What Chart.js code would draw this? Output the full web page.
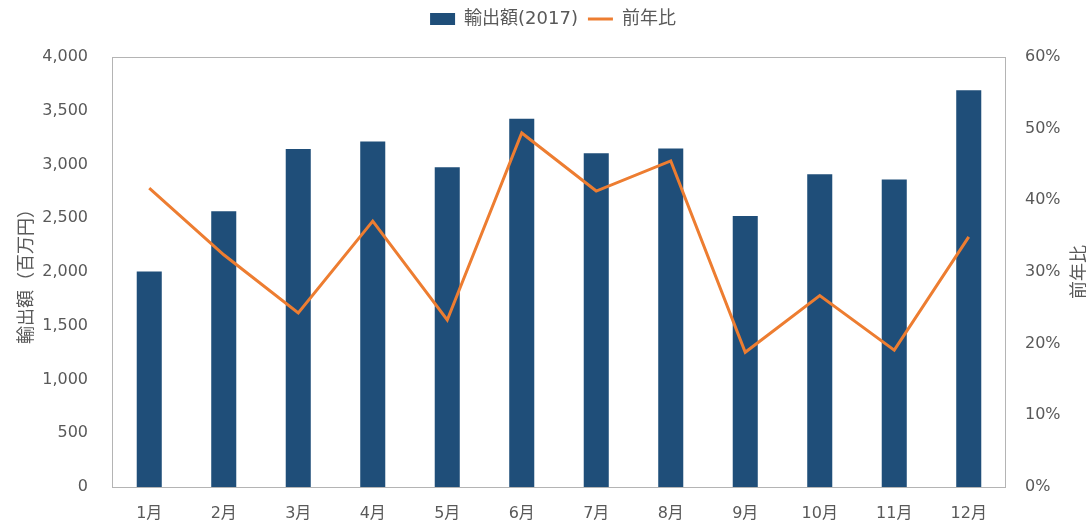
<!DOCTYPE html>
<html lang="ja">
<head>
<meta charset="utf-8">
<title>輸出額と前年比</title>
<script src="https://cdn.jsdelivr.net/npm/chart.js@4.4.1/dist/chart.umd.min.js"></script>
<style>
  html, body { margin: 0; padding: 0; background: #fff; }
  #wrap { width: 1086px; height: 526px; }
</style>
</head>
<body>
<div id="wrap"><canvas id="myChart" width="1086" height="526"></canvas></div>
<script>
const months = ["1月", "2月", "3月", "4月", "5月", "6月", "7月", "8月", "9月", "10月", "11月", "12月"];
// 輸出額 (百万円)
const exports2017 = [2005, 2565, 3145, 3215, 2975, 3425, 3105, 3150, 2520, 2910, 2860, 3690];
// 前年比 (%)
const yoyRate = [41.7, 32.4, 24.3, 37.1, 23.3, 49.4, 41.3, 45.5, 18.8, 26.7, 19.1, 34.9];

const leftTicks = { min: 0, max: 4000, step: 500 };
const rightTicks = { min: 0, max: 60, step: 10 };

const textColor = "#595959";
const fontFamily = "'DejaVu Sans', 'Noto Sans CJK JP', sans-serif";
const cjkFont = "'Noto Sans CJK JP', sans-serif";

// box around the plot area + right axis title drawn upright like the left one
const plotFrame = {
  id: "plotFrame",
  beforeLayout: (chart) => {
    // extra gap under the legend
    const legend = chart.legend;
    if (legend && !legend._gapPatched) {
      const fit = legend.fit;
      legend.fit = function () {
        fit.call(this);
        this.height += 19;
      };
      legend._gapPatched = true;
    }
  },
  afterLayout: (chart) => {
    // legend sits a little right of the canvas centre
    chart.legend.left += 10;
    chart.legend.right += 10;
  },
  beforeDatasetsDraw: (chart) => {
    const { ctx, chartArea } = chart;
    ctx.save();
    ctx.strokeStyle = "#b4b4b4";
    ctx.lineWidth = 1;
    ctx.strokeRect(
      Math.round(chartArea.left) + 0.5,
      Math.round(chartArea.top) + 0.5,
      Math.round(chartArea.right - chartArea.left) - 1,
      Math.round(chartArea.bottom - chartArea.top)
    );
    ctx.restore();
  },
  afterDraw: (chart) => {
    const { ctx, chartArea } = chart;
    ctx.save();
    ctx.translate(1078, (chartArea.top + chartArea.bottom) / 2);
    ctx.rotate(-Math.PI / 2);
    ctx.fillStyle = textColor;
    ctx.font = "18px " + cjkFont;
    ctx.textAlign = "center";
    ctx.textBaseline = "middle";
    ctx.fillText("前年比", 0, 0);
    ctx.restore();
  },
};

new Chart(document.getElementById("myChart"), {
  type: "bar",
  data: {
    labels: months,
    datasets: [
      {
        type: "bar",
        label: "輸出額(2017)",
        data: exports2017,
        backgroundColor: "#1f4e79",
        borderWidth: 0,
        barPercentage: 0.336,
        categoryPercentage: 1,
        yAxisID: "y",
        order: 1,
      },
      {
        type: "line",
        label: "前年比",
        data: yoyRate,
        borderColor: "#ed7d31",
        backgroundColor: "#ed7d31",
        borderWidth: 3,
        pointRadius: 0,
        tension: 0,
        yAxisID: "y2",
        order: 0,
      },
    ],
  },
  options: {
    responsive: false,
    animation: false,
    plugins: {
      tooltip: { enabled: false },
      legend: {
        position: "top",
        labels: {
          color: textColor,
          font: { family: fontFamily, size: 18 },
          usePointStyle: true,
          pointStyleWidth: 25,
          boxHeight: 12,
          padding: 10,
          sort: (a, b) => a.datasetIndex - b.datasetIndex,
          generateLabels: (chart) => {
            const items = Chart.defaults.plugins.legend.labels.generateLabels(chart);
            items.forEach((item) => {
              item.pointStyle = item.datasetIndex === 0 ? "rect" : "line";
              if (item.datasetIndex === 0) item.lineWidth = 0;
            });
            return items;
          },
        },
      },
    },
    scales: {
      x: {
        grid: { display: false, drawTicks: false },
        border: { display: false },
        ticks: {
          color: textColor,
          font: { family: fontFamily, size: 16 },
          padding: 17,
        },
        afterFit: (scale) => {
          scale.height = 39;
        },
      },
      y: {
        position: "left",
        min: leftTicks.min,
        max: leftTicks.max,
        grid: { display: false, drawTicks: false },
        border: { display: false },
        ticks: {
          stepSize: leftTicks.step,
          color: textColor,
          font: { family: fontFamily, size: 16 },
          padding: 24,
          callback: (v) => v.toLocaleString("en-US"),
        },
        title: {
          display: true,
          text: "輸出額（百万円）",
          color: textColor,
          font: { family: cjkFont, size: 18 },
          padding: { top: 14, bottom: 0 },
        },
        afterFit: (scale) => {
          scale.width = 112;
        },
      },
      y2: {
        position: "right",
        min: rightTicks.min,
        max: rightTicks.max,
        grid: { display: false, drawTicks: false },
        border: { display: false },
        ticks: {
          stepSize: rightTicks.step,
          color: textColor,
          font: { family: fontFamily, size: 16 },
          padding: 19,
          callback: (v) => v + "%",
        },
        afterFit: (scale) => {
          scale.width = 80;
        },
      },
    },
  },
  plugins: [plotFrame],
});
</script>
</body>
</html>
